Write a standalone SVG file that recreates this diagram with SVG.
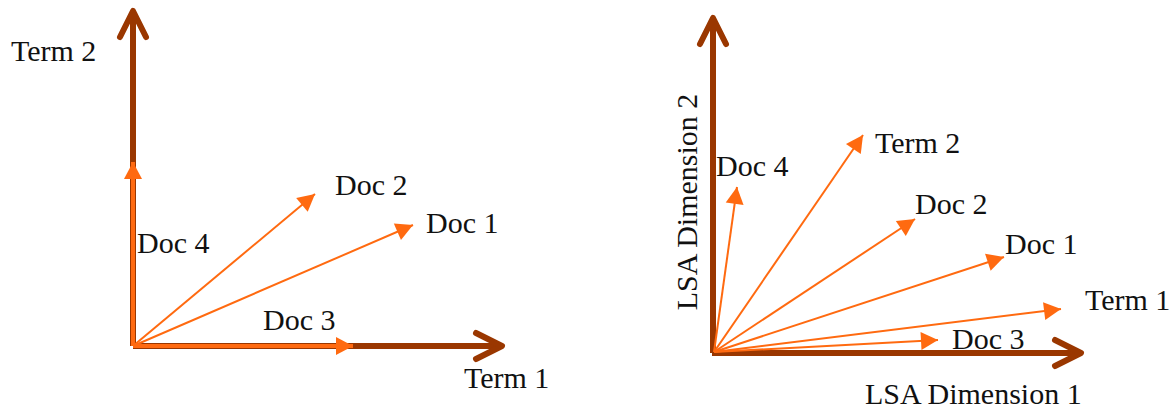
<svg xmlns="http://www.w3.org/2000/svg" width="1172" height="410" viewBox="0 0 1172 410">
<style>
  .axis { stroke: #9A3700; stroke-width: 6; fill: none; marker-end: url(#chev); }
  .vec { stroke: #FF6A10; stroke-width: 2; fill: none; marker-end: url(#tri); }
  .vecw { stroke: #FF6A10; stroke-width: 4; fill: none; marker-end: url(#tri); }
  .lbl { font-family: "Liberation Serif", "Times New Roman", serif; font-size: 30px; fill: #111111; }
</style>
<defs>
  <marker id="chev" markerUnits="userSpaceOnUse" viewBox="-40 -20 50 40" refX="0" refY="0" markerWidth="50" markerHeight="40" orient="auto" overflow="visible">
    <path d="M-26,-13 L0,0 L-26,13" fill="none" stroke="#9A3700" stroke-width="6" stroke-linecap="round" stroke-linejoin="round"/>
  </marker>
  <marker id="tri" markerUnits="userSpaceOnUse" viewBox="-20 -12 24 24" refX="0" refY="0" markerWidth="24" markerHeight="24" orient="auto" overflow="visible">
    <path d="M0,0 L-17,-9 L-17,9 Z" fill="#FF6A10"/>
  </marker>
</defs>

<g id="connectors">
  <line id="left-axis-y" class="axis" x1="133" y1="346" x2="133" y2="11"/>
  <line id="left-axis-x" class="axis" x1="133" y1="346" x2="502" y2="346"/>
  <line id="left-doc4" class="vecw" x1="133" y1="346" x2="133" y2="162"/>
  <line id="left-doc3" class="vecw" x1="133" y1="346" x2="353" y2="346"/>
  <line id="left-doc2" class="vec" x1="133" y1="346" x2="315" y2="194"/>
  <line id="left-doc1" class="vec" x1="133" y1="346" x2="413" y2="225"/>
  <line id="right-axis-y" class="axis" x1="713" y1="353" x2="713" y2="18"/>
  <line id="right-axis-x" class="axis" x1="712" y1="353" x2="1081" y2="353"/>
  <line id="right-doc4" class="vec" x1="714" y1="352" x2="737" y2="187"/>
  <line id="right-term2" class="vec" x1="714" y1="352" x2="863" y2="135"/>
  <line id="right-doc2" class="vec" x1="714" y1="352" x2="915" y2="219"/>
  <line id="right-doc1" class="vec" x1="714" y1="352" x2="1004" y2="257"/>
  <line id="right-term1" class="vec" x1="714" y1="352" x2="1061" y2="309"/>
  <line id="right-doc3" class="vec" x1="714" y1="352" x2="938" y2="340"/>
</g>

<g id="left-labels">
  <g id="l-term2"><text class="lbl" x="11" y="61">Term 2</text></g>
  <g id="l-doc2"><text class="lbl" x="335" y="195">Doc 2</text></g>
  <g id="l-doc1"><text class="lbl" x="426" y="233">Doc 1</text></g>
  <g id="l-doc4"><text class="lbl" x="137" y="253">Doc 4</text></g>
  <g id="l-doc3"><text class="lbl" x="263" y="330">Doc 3</text></g>
  <g id="l-term1"><text class="lbl" x="464" y="388">Term 1</text></g>
</g>

<g id="right-labels">
  <g id="r-doc4"><text class="lbl" x="716" y="176">Doc 4</text></g>
  <g id="r-term2"><text class="lbl" x="875" y="153">Term 2</text></g>
  <g id="r-doc2"><text class="lbl" x="915" y="214">Doc 2</text></g>
  <g id="r-doc1"><text class="lbl" x="1005" y="254">Doc 1</text></g>
  <g id="r-term1"><text class="lbl" x="1085" y="310">Term 1</text></g>
  <g id="r-doc3"><text class="lbl" x="952" y="349">Doc 3</text></g>
  <g id="r-dim1"><text class="lbl" x="865" y="404">LSA Dimension 1</text></g>
  <g id="r-dim2"><text class="lbl" transform="translate(697,202) rotate(-90)" x="0" y="0" text-anchor="middle">LSA Dimension 2</text></g>
</g>
</svg>
